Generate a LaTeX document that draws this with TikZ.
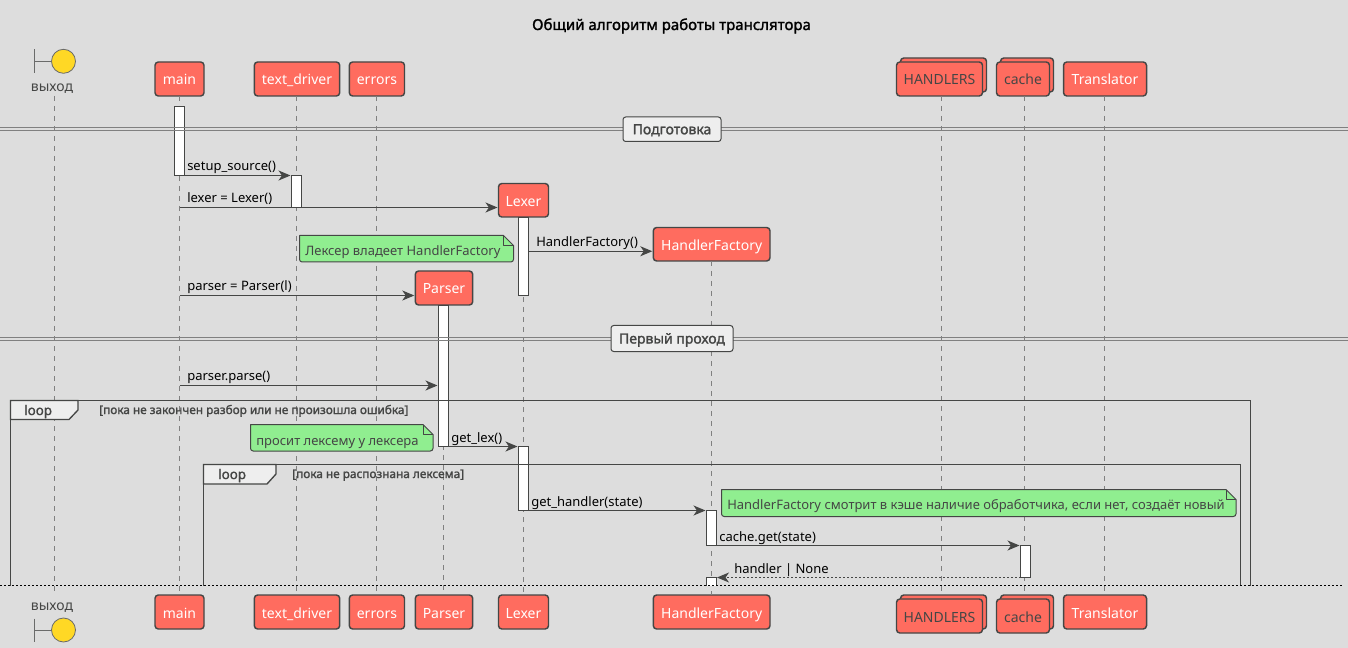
\documentclass[tikz,border=0pt]{standalone}
\usepackage{fontspec}
\setmainfont{Noto Sans}
\newfontfamily\fbold[FakeBold=1.6]{Noto Sans}
\usetikzlibrary{arrows.meta,calc}
\definecolor{bg}{HTML}{DDDDDD}
\definecolor{redbox}{HTML}{FF6C5F}
\definecolor{ink}{HTML}{454645}
\definecolor{lifeln}{HTML}{808080}
\definecolor{notegreen}{HTML}{90EE90}
\definecolor{tabfill}{HTML}{EEEEEE}
\definecolor{sun}{HTML}{FFD825}
\tikzset{
  headbox/.style={draw=ink,fill=redbox,line width=1.1pt,rounded corners=2.5pt,inner sep=0pt,outer sep=0pt,text=white,text height=9pt,text depth=0pt,font=\fontsize{10.5}{12}\selectfont},
  stackbox/.style={headbox,text=ink},
  plainbox/.style={headbox},
  actbar/.style={draw=ink,fill=white,line width=.8pt,inner sep=0pt,outer sep=0pt},
  actopen/.style={draw=none,fill=white,inner sep=0pt,outer sep=0pt},
  actside/.style={draw=ink,line width=.8pt},
  dashline/.style={draw=lifeln,line width=.75pt,dash pattern=on 3.75pt off 3.75pt},
  msg/.style={draw=ink,line width=.8pt,-{Stealth[length=9pt,width=7.5pt,inset=2.6pt,fill=ink]}},
  retmsg/.style={msg,dash pattern=on 1.5pt off 1.5pt},
  msglabel/.style={anchor=base west,inner sep=0pt,text=black,font=\fontsize{9.75}{12}\selectfont},
  notetext/.style={anchor=base west,inner sep=0pt,text=ink,font=\fontsize{9.75}{12}\selectfont},
  notebody/.style={draw=ink,fill=notegreen,line width=.75pt,line join=round},
  divline/.style={draw=lifeln,line width=.75pt},
  divbox/.style={draw=ink,fill=tabfill,line width=.75pt,rounded corners=2pt,inner sep=0pt,outer sep=0pt,text=ink,text height=7.5pt,text depth=0pt,font=\fbold\fontsize{10.5}{12}\selectfont},
  frameline/.style={draw=ink,line width=1pt},
  tabbody/.style={draw=ink,fill=tabfill,line width=1pt},
  tablabel/.style={anchor=base west,inner sep=0pt,text=ink,font=\fbold\fontsize{10}{12}\selectfont},
  condlabel/.style={anchor=base west,inner sep=0pt,text=ink,font=\fbold\fontsize{8.85}{10}\selectfont},
  sunnode/.style={circle,draw=ink!80,fill=sun,line width=.6pt,minimum size=18pt,inner sep=0pt,outer sep=0pt},
  bndline/.style={draw=ink!80,line width=.75pt},
  bndlabel/.style={anchor=base,inner sep=0pt,text=ink,font=\fontsize{10.5}{12}\selectfont},
}
% name, x1, y1, x2, y2, style, text
\newcommand{\rectnode}[7]{%
  \pgfmathsetmacro{\rw}{(#4-#2)*0.75}\pgfmathsetmacro{\rh}{(#5-#3)*0.75}%
  \pgfmathsetmacro{\rx}{(#2+#4)/2}\pgfmathsetmacro{\ry}{(#3+#5)/2}%
  \node[#6,minimum width=\rw pt,minimum height=\rh pt] (#1) at (\rx,\ry) {#7};}
% name, x1, y1, x2, y2, baseline, text
\newcommand{\notenode}[7]{%
  \pgfmathsetmacro{\fx}{#4-10}\pgfmathsetmacro{\fy}{#3+10}\pgfmathsetmacro{\tx}{#2+5.5}%
  \draw[notebody] (#2,#3) [rounded corners=2pt] -- (#2,#5) -- (#4,#5) [sharp corners] -- (#4,\fy) -- (\fx,#3) -- cycle;
  \draw[notebody,fill=none] (\fx,#3) -- (\fx,\fy) -- (#4,\fy);
  \node[notetext] (#1) at (\tx,#6) {#7};}
\begin{document}
\begin{tikzpicture}[x=0.75pt,y=-0.75pt]
\useasboundingbox (0,0) rectangle (1348,648);
\fill[bg] (0,0) rectangle (1348,648);
\node[anchor=base,inner sep=0pt,text=black,font=\fbold\fontsize{11.25}{13}\selectfont] (title) at (671.5,30) {Общий алгоритм работы транслятора};

% heads
\node[sunnode] (bt) at (63.5,61.3) {};
\coordinate (btl) at (34.3,61.3);
\draw[bndline] (34.3,49.5) -- (34.3,73);
\draw[bndline] (btl) -- (bt.west);
\node[bndlabel] (bndT) at (52,92) {выход};
\coordinate (lt0) at (54,96);
\rectnode{hmain}{155}{62}{204}{96}{plainbox}{main}
\rectnode{htd}{254.3}{62}{339.7}{96}{plainbox}{text\_driver}
\rectnode{herr}{349.3}{62}{404.5}{96}{plainbox}{errors}
\rectnode{hhb}{900.5}{58}{986.5}{92}{stackbox}{}
\rectnode{hh}{896.5}{62}{982.5}{96}{stackbox}{HANDLERS}
\rectnode{hcb}{1000.5}{58}{1053.5}{92}{stackbox}{}
\rectnode{hc}{996.5}{62}{1049.5}{96}{stackbox}{cache}
\rectnode{htr}{1063.5}{62}{1146.5}{96}{plainbox}{Translator}
\rectnode{hlex}{498.5}{183.5}{548.5}{217}{plainbox}{Lexer}
\rectnode{hhf}{653.3}{227.5}{770}{261}{plainbox}{HandlerFactory}
\rectnode{hpar}{415.3}{271}{472.7}{305}{plainbox}{Parser}

% feet
\rectnode{fmain}{155}{595}{204}{629}{plainbox}{main}
\rectnode{ftd}{254.3}{595}{339.7}{629}{plainbox}{text\_driver}
\rectnode{ferr}{349.3}{595}{404.5}{629}{plainbox}{errors}
\rectnode{fpar}{415.3}{595}{472.7}{629}{plainbox}{Parser}
\rectnode{flex}{498.5}{595}{548.5}{629}{plainbox}{Lexer}
\rectnode{fhf}{653.3}{595}{770}{629}{plainbox}{HandlerFactory}
\rectnode{fhb}{900.5}{595}{986.5}{629}{stackbox}{}
\rectnode{fh}{896.5}{599}{982.5}{633}{stackbox}{HANDLERS}
\rectnode{fcb}{1000.5}{595}{1053.5}{629}{stackbox}{}
\rectnode{fc}{996.5}{599}{1049.5}{633}{stackbox}{cache}
\rectnode{ftr}{1063.5}{595}{1146.5}{629}{plainbox}{Translator}
\node[bndlabel] (bndF) at (52,610) {выход};
\node[sunnode] (bf) at (63.5,630) {};
\coordinate (bfl) at (34.3,630);
\draw[bndline] (34.3,618.5) -- (34.3,642);
\draw[bndline] (bfl) -- (bf.west);
\coordinate (lf0) at (54,595);

% lifelines
\draw[dashline] (lt0) -- (lf0);
\draw[dashline] ($(hmain.south)+(-.2,0)$) -- ($(fmain.north)+(-.2,0)$);
\draw[dashline] ($(htd.south)+(-.7,0)$) -- ($(ftd.north)+(-.7,0)$);
\draw[dashline] ($(herr.south)+(-.2,0)$) -- ($(ferr.north)+(-.2,0)$);
\draw[dashline] ($(hpar.south)+(-.4,0)$) -- ($(fpar.north)+(-.4,0)$);
\draw[dashline] (hlex.south) -- (flex.north);
\draw[dashline] (hhf.south) -- (fhf.north);
\draw[dashline] ($(hh.south)+(1.8,0)$) -- ($(fhb.north -| hh.south)+(1.8,0)$);
\draw[dashline] ($(hc.south)+(1.3,0)$) -- ($(fcb.north -| hc.south)+(1.3,0)$);
\draw[dashline] ($(htr.south)+(-.7,0)$) -- ($(ftr.north)+(-.7,0)$);

% activation bars
\rectnode{amain}{174.5}{106.5}{184.5}{175.5}{actbar}{}
\rectnode{atd}{291.5}{175.5}{301.5}{207.5}{actbar}{}
\rectnode{alex}{518.5}{217.5}{528.5}{295.5}{actbar}{}
\rectnode{apar}{438.5}{305.5}{448.5}{446.5}{actbar}{}
\rectnode{alexb}{518.5}{446.5}{528.5}{510.5}{actbar}{}
\rectnode{ahf}{706.5}{510.5}{716.5}{545.5}{actbar}{}
\rectnode{ac}{1020.5}{545.5}{1030.5}{577.5}{actbar}{}
\rectnode{ahfb}{706.5}{577.5}{716.5}{585.5}{actopen}{}
\draw[actside] (ahfb.south west) -- (ahfb.north west) -- (ahfb.north east) -- (ahfb.south east);

% dividers
\foreach \yy/\nn in {127.5/a,130.5/b,337.5/c,340.5/d}{
  \coordinate (dl\nn) at (0,\yy);
  \coordinate (dr\nn) at (1348,\yy);
  \draw[divline] (dl\nn) -- (dr\nn);
}
\rectnode{div1}{623}{117}{721}{141.5}{divbox}{Подготовка\hspace{2.25pt}}
\rectnode{div2}{611}{325.5}{733}{351.5}{divbox}{Первый проход\hspace{2.25pt}}

% messages
\coordinate (m2) at (0,207.5);
\coordinate (m4) at (0,295.5);
\coordinate (m5) at (0,385.5);
\draw[msg] (amain.south east) -- ($(atd.north west)+(-1,0)$);
\draw[msg] (hmain.center |- m2) -- ($(hlex.west |- m2)+(-1,0)$);
\draw[msg] (alex.east |- hhf.center) ++(0,7) coordinate (m3) -- ($(hhf.west |- m3)+(-1,0)$);
\draw[msg] (hmain.center |- m4) -- ($(hpar.west |- m4)+(-1,0)$);
\draw[msg] (hmain.center |- m5) -- ($(apar.west |- m5)+(-1,0)$);
\draw[msg] (apar.south east) -- ($(alexb.north west)+(-1,0)$);
\draw[msg] (alexb.south east) -- ($(ahf.north west)+(-1,0)$);
\draw[msg] (ahf.south east) -- ($(ac.north west)+(-1,0)$);
\draw[retmsg] (ac.south west) -- ($(ahfb.north east)+(0.5,0)$);
\node[msglabel] (t1) at (187,171) {setup\_source()};
\node[msglabel] (t2) at (187,203) {lexer = Lexer()};
\node[msglabel] (t3) at (536,247) {HandlerFactory()};
\node[msglabel] (t4) at (187,291) {parser = Parser(l)};
\node[msglabel] (t5) at (187,380.5) {parser.parse()};
\node[msglabel] (t6) at (451,442) {get\_lex()};
\node[msglabel] (t7) at (531,506) {get\_handler(state)};
\node[msglabel] (t8) at (719,541) {cache.get(state)};
\node[msglabel] (t9) at (734,573) {handler | None};

% notes
\notenode{n1}{299.5}{235.5}{513.5}{262}{256}{Лексер владеет HandlerFactory}
\notenode{n2}{250.5}{424.5}{433}{451}{445}{просит лексему у лексера}
\notenode{n3}{721.5}{489.5}{1236}{516.5}{509}{HandlerFactory смотрит в кэше наличие обработчика, если нет, создаёт новый}

% loops
\draw[frameline] (10.5,585.5) -- (10.5,400.5) -- (1250.5,400.5) -- (1250.5,585.5);
\draw[tabbody] (10.5,400.5) -- (78,400.5) -- (78,410) -- (69,419.5) -- (10.5,419.5) -- cycle;
\node[tablabel] (lp1) at (24,415) {loop};
\node[condlabel] (c1) at (99,414) {[пока не закончен разбор или не произошла ошибка]};
\draw[frameline] (203.5,585.5) -- (203.5,464.5) -- (1240.5,464.5) -- (1240.5,585.5);
\draw[tabbody] (203.5,464.5) -- (276,464.5) -- (276,474) -- (267,484) -- (203.5,484) -- cycle;
\node[tablabel] (lp2) at (218,479) {loop};
\node[condlabel] (c2) at (292,478) {[пока не распознана лексема]};

% page break
\coordinate (pbl) at (0,585.5);
\coordinate (pbr) at (1344,585.5);
\draw[black,line width=.8pt,dash pattern=on 1.5pt off 1.5pt] (pbl) -- (pbr);
\end{tikzpicture}
\end{document}
